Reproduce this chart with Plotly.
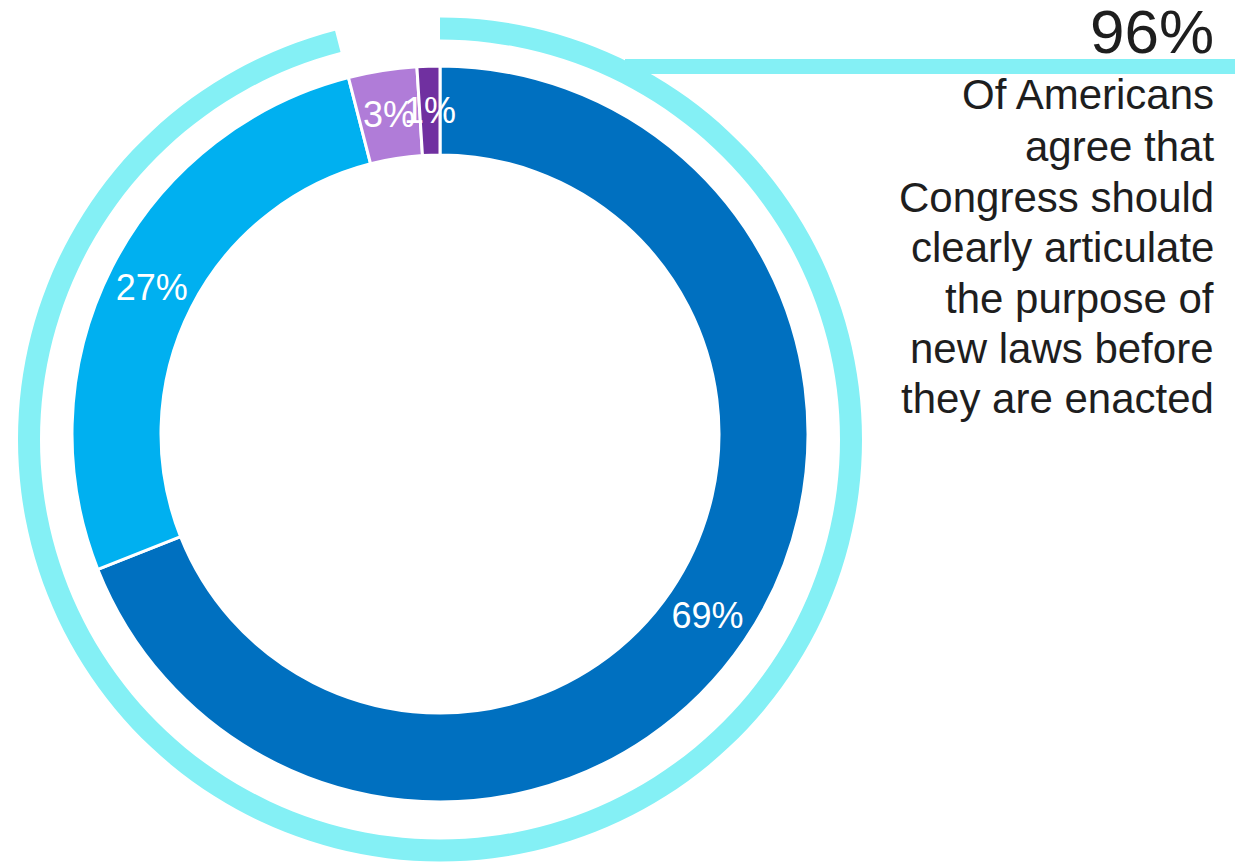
import math
import plotly.graph_objects as go

# Survey breakdown (percent of respondents)
categories = ["Strongly agree", "Somewhat agree", "Somewhat disagree", "Strongly disagree"]
shares = [69, 27, 3, 1]
slice_colors = ["#0070C0", "#00B0F0", "#B07CD8", "#7030A0"]

# Outer highlight ring: combined agreement vs. the rest
agree_total = shares[0] + shares[1]
ring_values = [agree_total, 100 - agree_total]

headline = f"{agree_total}%"
caption_lines = [
    "Of Americans",
    "agree that",
    "Congress should",
    "clearly articulate",
    "the purpose of",
    "new laws before",
    "they are enacted",
]
caption_baselines = [110, 162, 213, 263, 314, 364, 414]

W, H = 1248, 865
FONT = "Liberation Sans, Arial, Helvetica, sans-serif"
CYAN = "#84F0F5"
TEXT = "#1E1E1E"

# Donut geometry (pixels)
CX, CY, R_OUT, R_IN = 440, 434, 368, 279
# Slices too thin for the pie's own inside text get a label annotation
SMALL = 5


def xdom(cx, r):
    return [(cx - r) / W, (cx + r) / W]


def ydom(cy, r):
    yb = H - cy
    return [(yb - r) / H, (yb + r) / H]


fig = go.Figure()

# Highlight ring around the donut
fig.add_trace(go.Pie(
    values=ring_values,
    labels=["Agree", "Other"],
    sort=False,
    direction="clockwise",
    rotation=0,
    hole=400 / 422,
    marker=dict(colors=[CYAN, "rgba(0,0,0,0)"], line=dict(width=0)),
    textinfo="none",
    hoverinfo="skip",
    showlegend=False,
    domain=dict(x=xdom(440, 422), y=ydom(439.5, 422)),
))

# Main donut
fig.add_trace(go.Pie(
    values=shares,
    labels=categories,
    sort=False,
    direction="clockwise",
    rotation=0,
    hole=R_IN / R_OUT,
    marker=dict(colors=slice_colors, line=dict(color="white", width=3)),
    text=[f"{v}%" if v >= SMALL else "" for v in shares],
    textinfo="text",
    textposition="inside",
    insidetextorientation="horizontal",
    textfont=dict(family=FONT, size=36, color="white"),
    showlegend=False,
    domain=dict(x=xdom(CX, R_OUT), y=ydom(CY, R_OUT)),
))

# Labels for the thin slices, centred mid-ring at each slice's mid angle
total = sum(shares)
r_mid = (R_OUT + R_IN) / 2
cum = 0
for v in shares:
    mid = (cum + v / 2) / total * 2 * math.pi
    cum += v
    if v >= SMALL:
        continue
    px = CX + r_mid * math.sin(mid)
    py = CY - r_mid * math.cos(mid)
    fig.add_annotation(
        text=f"{v}%", xref="paper", yref="paper",
        x=px / W, y=(H - py) / H, xanchor="center", yanchor="middle",
        showarrow=False, font=dict(family=FONT, size=36, color="white"),
    )

# Connector line from the ring to the headline
fig.add_shape(
    type="line", xref="paper", yref="paper",
    x0=625 / W, x1=1235 / W, y0=(H - 66.5) / H, y1=(H - 66.5) / H,
    line=dict(color=CYAN, width=15),
)

fig.add_annotation(
    text=headline, xref="paper", yref="paper",
    x=1216 / W, y=(H - 68.5) / H, xanchor="right", yanchor="bottom",
    showarrow=False, font=dict(family=FONT, size=62, color=TEXT),
)

for line, base in zip(caption_lines, caption_baselines):
    fig.add_annotation(
        text=line, xref="paper", yref="paper",
        x=1216 / W, y=(H - base + 15.5) / H, xanchor="right", yanchor="middle",
        showarrow=False, font=dict(family=FONT, size=42, color=TEXT),
    )

fig.update_layout(
    width=W, height=H,
    margin=dict(l=0, r=0, t=0, b=0),
    paper_bgcolor="white",
    plot_bgcolor="white",
    uniformtext=dict(minsize=36, mode="show"),
)

fig.write_html("out.html")
